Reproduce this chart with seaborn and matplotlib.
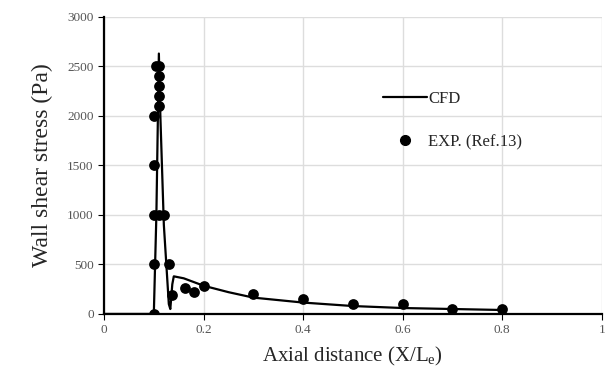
import numpy as np
import pandas as pd
import matplotlib
matplotlib.use('Agg')
import matplotlib.pyplot as plt
import seaborn as sns
from matplotlib.lines import Line2D

# CFD curve
cfd_x = [0.0, 0.095, 0.1, 0.105, 0.11, 0.113, 0.12, 0.13, 0.133, 0.137, 0.14, 0.16, 0.2, 0.25, 0.3, 0.4, 0.5, 0.6, 0.7, 0.8]
cfd_y = [0, 0, 30, 1000, 2630, 2000, 900, 100, 50, 300, 380, 360, 285, 220, 165, 115, 80, 60, 50, 40]

# experimental points (Ref.13)
exp_x = [0.1, 0.1, 0.13, 0.1, 0.11, 0.12, 0.1, 0.1, 0.11, 0.11, 0.11, 0.11, 0.105, 0.11,
         0.136, 0.163, 0.181, 0.2, 0.3, 0.4, 0.5, 0.6, 0.7, 0.8]
exp_y = [0, 500, 500, 1000, 1000, 1000, 1500, 2000, 2100, 2200, 2300, 2400, 2500, 2500,
         190, 260, 225, 280, 200, 155, 100, 100, 50, 50]

x_ticks = [0, 0.2, 0.4, 0.6, 0.8, 1]
x_labels = ['0', '0.2', '0.4', '0.6', '0.8', '1']
y_ticks = [0, 500, 1000, 1500, 2000, 2500, 3000]

cfd = pd.DataFrame({'x': cfd_x, 'y': cfd_y})
exp = pd.DataFrame({'x': exp_x, 'y': exp_y})

sns.set_style('whitegrid')
plt.rcParams['font.family'] = ['Liberation Serif', 'DejaVu Serif']
plt.rcParams['mathtext.fontset'] = 'custom'
plt.rcParams['mathtext.rm'] = 'Liberation Serif'
plt.rcParams['mathtext.it'] = 'Liberation Serif:italic'

fig = plt.figure(figsize=(6.09, 3.76), dpi=100)
ax = fig.add_axes([0.171, 0.165, 0.817, 0.79])

sns.lineplot(data=cfd, x='x', y='y', sort=False, color='black', linewidth=1.6, ax=ax)
sns.scatterplot(data=exp, x='x', y='y', color='black', s=60, edgecolor='black', linewidth=0, ax=ax, zorder=3)

ax.set_xlim(0, 1)
ax.set_ylim(0, 3000)
ax.set_xticks(x_ticks)
ax.set_xticklabels(x_labels)
ax.set_yticks(y_ticks)
ax.tick_params(axis='both', labelsize=9.5, labelcolor='#555555', length=4, color='black', direction='out')
ax.tick_params(axis='both', which='both', left=True, bottom=True)
ax.grid(True, color='#dddddd', linewidth=1)

for side in ['top', 'right']:
    ax.spines[side].set_visible(False)
for side in ['left', 'bottom']:
    ax.spines[side].set_color('black')
    ax.spines[side].set_linewidth(1.6)

ax.set_xlabel('Axial distance (X/L$_\\mathrm{e}$)', fontsize=15, labelpad=6)
ax.set_ylabel('Wall shear stress (Pa)', fontsize=17, labelpad=10)

handles = [Line2D([0], [0], color='black', linewidth=1.6),
           Line2D([0], [0], marker='o', color='black', linestyle='none', markersize=7)]
ax.legend(handles, ['CFD', 'EXP. (Ref.13)'], frameon=False, fontsize=12,
          loc='upper left', bbox_to_anchor=(0.531, 0.80), labelspacing=1.6,
          handlelength=2.6, handletextpad=0.1)

fig.savefig('out.png', dpi=100)
